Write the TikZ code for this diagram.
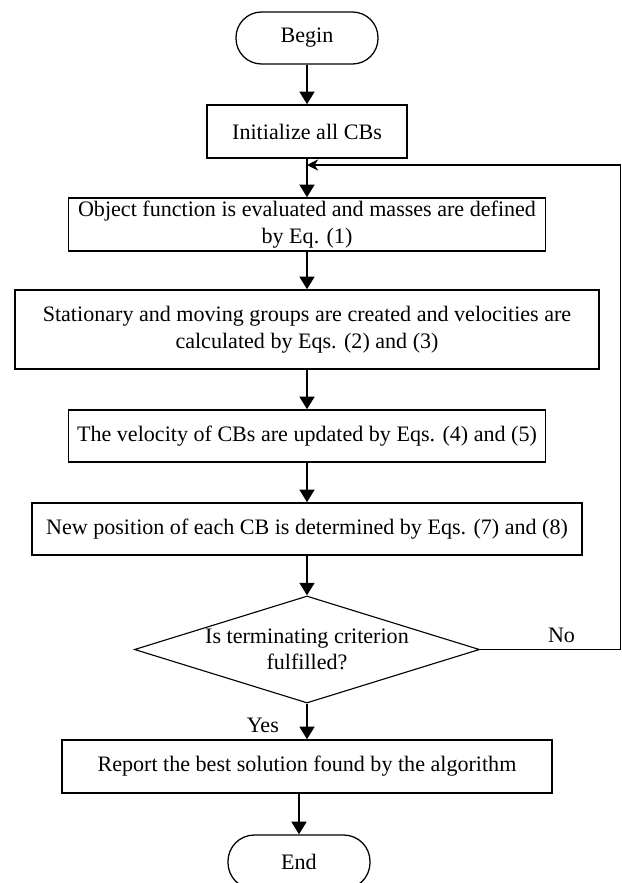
\documentclass[tikz,border=0pt]{standalone}
\usepackage{fontspec}
\setmainfont{Liberation Serif}
\usetikzlibrary{shapes.geometric,arrows.meta}

\begin{document}
\begin{tikzpicture}[x=0.025cm, y=-0.025cm,
    font=\fontsize{15.7}{18.9}\selectfont,
    every node/.style={inner sep=0pt, align=center},
    term/.style={draw, line width=0.9pt, rounded corners=0.64cm, minimum width=3.55cm, minimum height=1.3cm},
    proc/.style={draw, line width=1pt, minimum height=1.3cm},
    decision/.style={draw, line width=0.8pt, diamond, minimum width=8.625cm, minimum height=2.675cm},
    flow/.style={line width=2pt, -{Triangle[width=10.4pt, length=9pt]}},
    back/.style={line width=1pt, -{Stealth[width=8pt, length=8pt]}}]
    \useasboundingbox (0,0) rectangle (622,883);
    \node[term] (begin) at (307,38) {Begin};
    \node[proc, minimum width=5cm, minimum height=1.325cm] (init) at (307,131.5) {Initialize all CBs};
    \node[proc, minimum width=11.925cm, minimum height=1.325cm] (eval) at (307,224.5) {Object function is evaluated and masses are defined\\by Eq. (1)};
    \node[proc, minimum width=14.6cm, minimum height=1.975cm] (groups) at (307,329.5) {Stationary and moving groups are created and velocities are\\calculated by Eqs. (2) and (3)};
    \node[proc, minimum width=11.925cm] (vel) at (307,436) {The velocity of CBs are updated by Eqs. (4) and (5)};
    \node[proc, minimum width=13.75cm] (pos) at (307,529) {New position of each CB is determined by Eqs. (7) and (8)};
    \node[decision, label={[align=center]center:Is terminating criterion\\fulfilled?}] (cond) at (307,649.5) {};
    \node[proc, minimum width=12.25cm, minimum height=1.325cm] (report) at (307,766.5) {Report the best solution found by the algorithm};
    \node[term, minimum height=1.35cm, rounded corners=0.66cm] (end) at (299,862) {End};
    \coordinate (turnA) at (620.5,649.5);
    \coordinate (turnB) at (620.5,165);
    \coordinate (merge) at (307,165);
    \draw [flow] (begin) -- (init);
    \draw [flow] (init) -- (eval);
    \draw [flow] (eval) -- (groups);
    \draw [flow] (groups) -- (vel);
    \draw [flow] (vel) -- (pos);
    \draw [flow] (pos) -- (cond);
    \draw [flow] (cond) -- node[left=19pt, pos=0.6] {Yes} (report);
    \draw [flow] (report.south -| end) -- (end);
    \draw [back] (cond.east) -- node[above=4pt, pos=0.58] {No} (turnA) -- (turnB) -- (merge);
\end{tikzpicture}
\end{document}
